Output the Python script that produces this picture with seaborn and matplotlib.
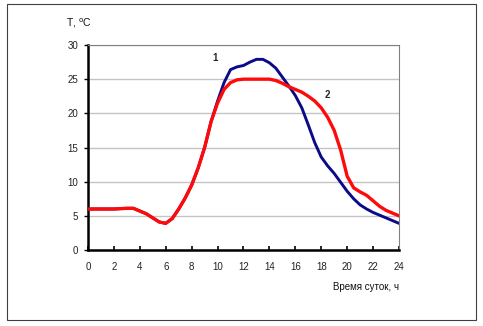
import matplotlib
matplotlib.use("Agg")
import matplotlib.pyplot as plt
import seaborn as sns
import pandas as pd
from matplotlib.patches import Rectangle

# Hourly temperature readings, °C (curve 1 and curve 2)
hours_1 = [0, 1, 2, 3, 3.5, 4, 4.5, 5, 5.5, 6, 6.5, 7, 7.5, 8, 8.5, 9, 9.5, 10, 10.5,
           11, 11.5, 12, 12.5, 13, 13.5, 14, 14.5, 15, 15.5, 16, 16.5, 17, 17.5, 18,
           18.5, 19, 19.5, 20, 20.5, 21, 21.5, 22, 22.5, 23, 23.5, 24]
temp_1 = [6, 6, 6, 6.1, 6.1, 5.7, 5.3, 4.7, 4.1, 3.9, 4.6, 6, 7.6, 9.5, 12, 15, 18.8, 21.8, 24.5,
          26.4, 26.8, 27, 27.5, 27.9, 27.9, 27.4, 26.6, 25.3, 24, 22.6, 20.8, 18.3, 15.7, 13.6,
          12.3, 11.2, 9.9, 8.6, 7.5, 6.6, 6, 5.5, 5.1, 4.7, 4.3, 3.9]

hours_2 = [0, 1, 2, 3, 3.5, 4, 4.5, 5, 5.5, 6, 6.5, 7, 7.5, 8, 8.5, 9, 9.5, 10, 10.5,
           11, 11.5, 12, 12.5, 13, 13.5, 14, 14.5, 15, 15.5, 16, 16.5, 17, 17.5, 18,
           18.5, 19, 19.5, 20, 20.5, 21, 21.5, 22, 22.5, 23, 23.5, 24]
temp_2 = [6, 6, 6, 6.1, 6.1, 5.7, 5.3, 4.7, 4.1, 3.9, 4.6, 6, 7.6, 9.5, 12, 15, 18.8, 21.5, 23.5,
          24.5, 24.9, 25, 25, 25, 25, 25, 24.8, 24.4, 23.9, 23.5, 23.1, 22.5, 21.8, 20.8,
          19.4, 17.5, 14.6, 10.8, 9.1, 8.5, 8, 7.2, 6.4, 5.8, 5.4, 5]

x_ticks = list(range(0, 25, 2))
y_ticks = [0, 5, 10, 15, 20, 25, 30]

df = pd.concat([
    pd.DataFrame({"hour": hours_1, "temp": temp_1, "curve": "1"}),
    pd.DataFrame({"hour": hours_2, "temp": temp_2, "curve": "2"}),
])

sns.set_style("white")
plt.rcParams["font.family"] = ["Liberation Sans", "DejaVu Sans"]

fig = plt.figure(figsize=(4.83, 3.26), dpi=100)
ax = fig.add_axes([88 / 483, 1 - 250 / 326, 311 / 483, 205 / 326])

sns.lineplot(data=df, x="hour", y="temp", hue="curve",
             palette={"1": "#0a0a8a", "2": "#ff0a0a"},
             hue_order=["1", "2"], linewidth=2.4, legend=False, ax=ax,
             sort=False)
# red curve drawn on top
ax.lines[1].set_zorder(3)
ax.lines[0].set_zorder(2)
ax.lines[0].set_linewidth(2.1)
for ln in ax.lines:
    ln.set_solid_joinstyle("round")
    ln.set_solid_capstyle("round")

ax.set_xlim(0, 24)
ax.set_ylim(0, 30)
ax.set_xticks(x_ticks)
ax.set_yticks(y_ticks)
ax.set_xlabel("")
ax.set_ylabel("")
ax.yaxis.grid(True, color="#c4c4c4", linewidth=1)
ax.set_axisbelow(True)

for side in ("left", "bottom"):
    ax.spines[side].set_color("black")
    ax.spines[side].set_linewidth(1.8)
for side in ("top", "right"):
    ax.spines[side].set_color("#808080")
    ax.spines[side].set_linewidth(0.8)

ax.tick_params(axis="x", direction="in", length=3, width=1.2, color="black",
               labelsize=7, pad=9, bottom=True, labelcolor="#222222")
ax.tick_params(axis="y", direction="out", length=3, width=1, color="black",
               labelsize=7, pad=4, left=True, labelcolor="#222222")

ax.text(9.8, 28.1, "1", fontsize=7, fontweight="bold", ha="center", va="center")
ax.text(18.5, 22.7, "2", fontsize=7, fontweight="bold", ha="center", va="center")

fig.text(399 / 483, 1 - 287 / 326, "Время суток, ч", fontsize=7, ha="right",
         va="center", color="#111111")
fig.text(66 / 483, 1 - 23 / 326, "Т, $^{\\rm o}$С", fontsize=7.5, ha="left", va="center",
         color="#111111")

fig.patches.append(Rectangle((6.5 / 483, 1 - 320 / 326), 469 / 483, 316.5 / 326,
                             transform=fig.transFigure, fill=False,
                             edgecolor="#404040", linewidth=0.8))

fig.savefig("out.png", dpi=100)
